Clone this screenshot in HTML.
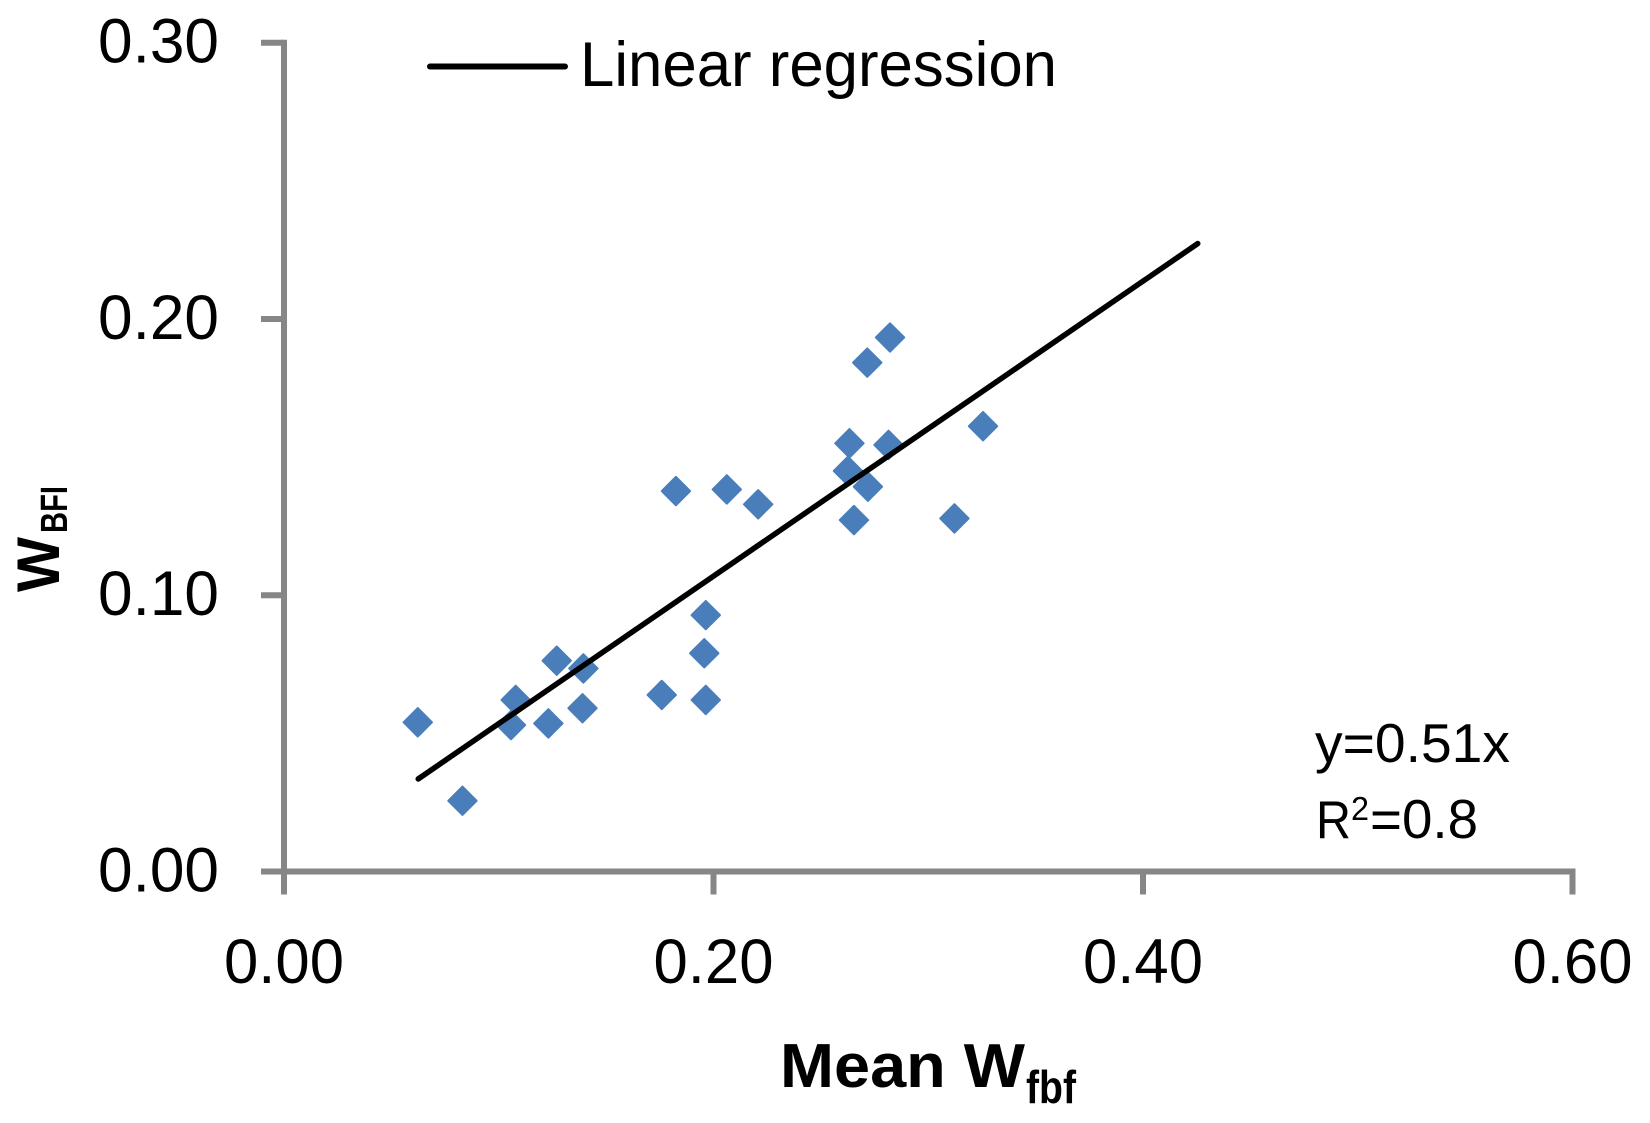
<!DOCTYPE html>
<html lang="en">
<head>
<meta charset="utf-8">
<title>Mean Wfbf vs WBFI</title>
<style>
  html, body { margin: 0; padding: 0; background: #fff; }
  svg { display: block; font-family: "Liberation Sans", sans-serif; fill: #000; }
</style>
</head>
<body>
<svg id="chart" xmlns="http://www.w3.org/2000/svg" width="1650" height="1123" viewBox="0 0 1650 1123">
  <rect x="0" y="0" width="1650" height="1123" fill="#ffffff"/>
  <g id="axes"></g>
  <g id="points"></g>
  <g id="trend"></g>

  <g>
    <line x1="430" y1="66.5" x2="565" y2="66.5" stroke="#000" stroke-width="6" stroke-linecap="round"/>
    <text x="580" y="86" font-size="63" textLength="477" lengthAdjust="spacingAndGlyphs">Linear regression</text>
  </g>

  <g>
    <text x="1315" y="762" font-size="55" textLength="195" lengthAdjust="spacingAndGlyphs">y=0.51x</text>
    <text x="1316" y="838" font-size="53" textLength="35" lengthAdjust="spacingAndGlyphs">R</text>
    <text x="1351" y="820" font-size="33" textLength="18" lengthAdjust="spacingAndGlyphs">2</text>
    <text x="1370" y="838" font-size="55" textLength="108" lengthAdjust="spacingAndGlyphs">=0.8</text>
  </g>

  <g>
    <text x="780" y="1087" font-size="62" font-weight="700" textLength="245" lengthAdjust="spacingAndGlyphs">Mean W</text>
    <text x="1026" y="1103" font-size="46" font-weight="700" textLength="50" lengthAdjust="spacingAndGlyphs">fbf</text>
  </g>

  <g>
    <text transform="translate(59 592) rotate(-90)" x="0" y="0" font-size="60" font-weight="700" textLength="55" lengthAdjust="spacingAndGlyphs">W</text>
    <text transform="translate(67 533) rotate(-90)" x="0" y="0" font-size="38" font-weight="700" textLength="47" lengthAdjust="spacingAndGlyphs">BFI</text>
  </g>
</svg>

<script>
// Chart data
const xTickValues = [0, 0.2, 0.4, 0.6];
const xTickLabels = ["0.00", "0.20", "0.40", "0.60"];
const yTickValues = [0, 0.1, 0.2, 0.3];
const yTickLabels = ["0.00", "0.10", "0.20", "0.30"];

const meanWfbf = [
  0.0623, 0.0831, 0.1079, 0.1057, 0.1231, 0.1270, 0.1394, 0.1390,
  0.1759, 0.1964, 0.1957, 0.1964, 0.1825, 0.2062, 0.2208, 0.2633,
  0.2815, 0.2626, 0.2719, 0.2654, 0.3122, 0.3255, 0.2716, 0.2822
];
const wBFI = [
  0.0540, 0.0256, 0.0621, 0.0530, 0.0536, 0.0763, 0.0735, 0.0591,
  0.0639, 0.0621, 0.0790, 0.0928, 0.1377, 0.1383, 0.1329, 0.1550,
  0.1544, 0.1450, 0.1393, 0.1272, 0.1278, 0.1612, 0.1842, 0.1933
];

const regressionX = [0.0625, 0.4255];
const regressionY = [0.0335, 0.2273];

// Axis functions
const plotLeft = 284;
const plotRight = 1572.5;
const plotBottom = 871.5;
const plotTop = 42.7;
const xMax = 0.6;
const yMax = 0.3;
function xScale(v) { return plotLeft + (v / xMax) * (plotRight - plotLeft); }
function yScale(v) { return plotBottom - (v / yMax) * (plotBottom - plotTop); }

const NS = "http://www.w3.org/2000/svg";
const axisColor = "#868686";
const axisWidth = 6;
const tickLength = 23;
const markerRadius = 14.2;
const labelWidth = 120;
const labelSize = 63;

function make(tag, parent, attrs) {
  const el = document.createElementNS(NS, tag);
  for (const k in attrs) el.setAttribute(k, attrs[k]);
  parent.appendChild(el);
  return el;
}

const axes = document.getElementById("axes");
const points = document.getElementById("points");
const trend = document.getElementById("trend");

// Axis lines
const yAxisLine = make("line", axes, {
  x1: plotLeft, y1: plotTop - 3, x2: plotLeft, y2: plotBottom + tickLength,
  stroke: axisColor, "stroke-width": axisWidth
});



const xAxisLine = make("line", axes, {
  x1: plotLeft - tickLength, y1: plotBottom, x2: plotRight + 3, y2: plotBottom,
  stroke: axisColor, "stroke-width": axisWidth
});



// X ticks and labels
xTickValues.forEach(function (v, i) {
  const px = xScale(v);
  const tick = make("line", axes, {
    x1: px, y1: plotBottom, x2: px, y2: plotBottom + tickLength,
    stroke: axisColor, "stroke-width": axisWidth
  });
  
  

  const label = make("text", axes, {
    x: px - labelWidth / 2, y: 983, "font-size": labelSize,
    textLength: labelWidth, lengthAdjust: "spacingAndGlyphs"
  });
  
  
  label.textContent = xTickLabels[i];
});

// Y ticks and labels
yTickValues.forEach(function (v, i) {
  const py = yScale(v);
  const tick = make("line", axes, {
    x1: plotLeft - tickLength, y1: py, x2: plotLeft, y2: py,
    stroke: axisColor, "stroke-width": axisWidth
  });
  
  

  const label = make("text", axes, {
    x: 98, y: py + 20, "font-size": labelSize,
    textLength: labelWidth + 1, lengthAdjust: "spacingAndGlyphs"
  });
  
  
  label.textContent = yTickLabels[i];
});

// Data points
meanWfbf.forEach(function (v, i) {
  const cx = xScale(v);
  const cy = yScale(wBFI[i]);
  const r = markerRadius;
  const d = "M" + cx + " " + (cy - r) + "L" + (cx + r) + " " + cy +
            "L" + cx + " " + (cy + r) + "L" + (cx - r) + " " + cy + "Z";
  const mark = make("path", points, {
    d: d, fill: "#4a7ebb", stroke: "#4a7ebb", "stroke-width": 2, "stroke-linejoin": "round"
  });
  
  
});

// Regression line
const regressionLine = make("line", trend, {
  x1: xScale(regressionX[0]), y1: yScale(regressionY[0]),
  x2: xScale(regressionX[1]), y2: yScale(regressionY[1]),
  stroke: "#000", "stroke-width": 5.5, "stroke-linecap": "round"
});


</script>
</body>
</html>
